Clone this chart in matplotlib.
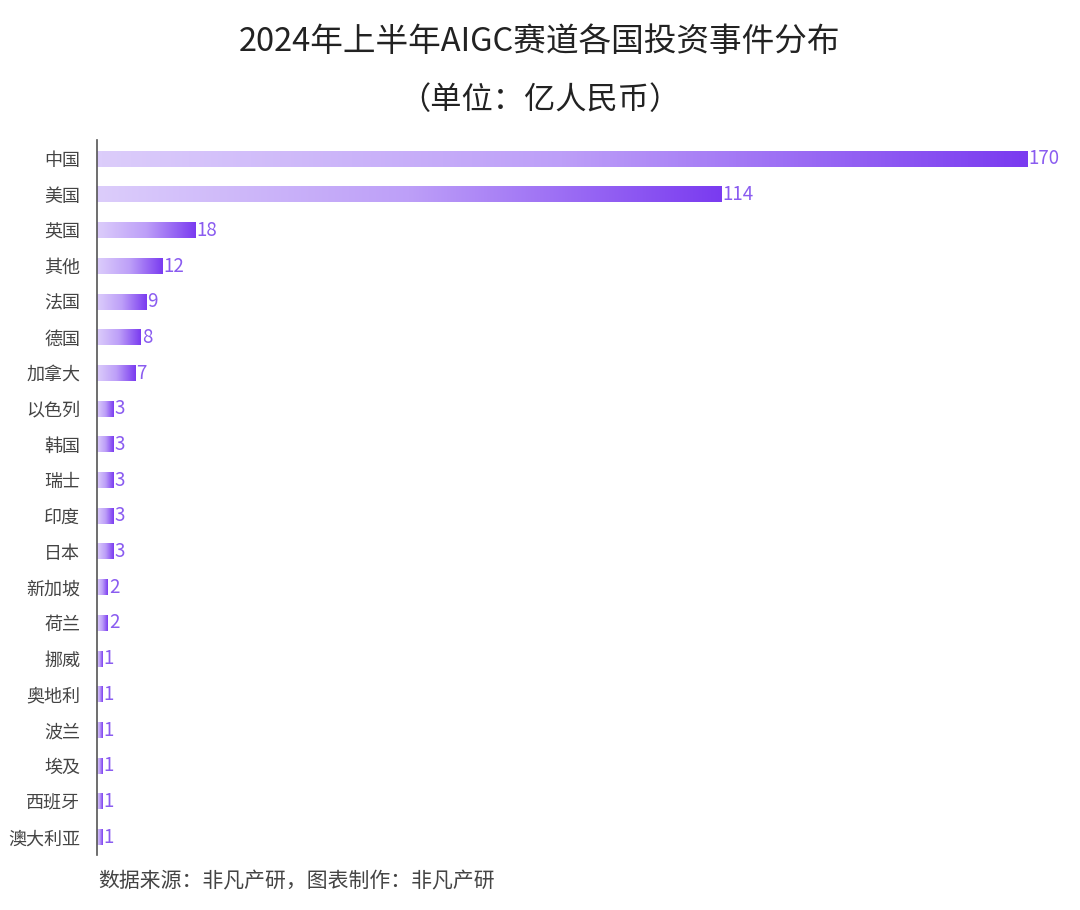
import matplotlib
matplotlib.use("Agg")
import matplotlib.pyplot as plt
import numpy as np
from matplotlib.colors import LinearSegmentedColormap

plt.rcParams['font.family'] = ['Noto Sans CJK SC', 'DejaVu Sans']

countries = ['中国', '美国', '英国', '其他', '法国', '德国', '加拿大', '以色列', '韩国', '瑞士',
             '印度', '日本', '新加坡', '荷兰', '挪威', '奥地利', '波兰', '埃及', '西班牙', '澳大利亚']
values = [170, 114, 18, 12, 9, 8, 7, 3, 3, 3, 3, 3, 2, 2, 1, 1, 1, 1, 1, 1]

title = '2024年上半年AIGC赛道各国投资事件分布'
subtitle = '（单位：亿人民币）'
source = '数据来源：非凡产研，图表制作：非凡产研'

# light lavender -> purple gradient along each bar
cmap = LinearSegmentedColormap.from_list('grad', ['#dccdfb', '#bd9ff8', '#7a3bf0'])
grad = np.linspace(0, 1, 256).reshape(1, -1)

fig = plt.figure(figsize=(10.8, 9.1), dpi=100)
ax = fig.add_axes([97 / 1080, 1 - 855 / 910, (1028 - 97) / 1080, (855 - 140) / 910])

bar_h = 0.44
for i, (name, v) in enumerate(zip(countries, values)):
    ax.imshow(grad, cmap=cmap, aspect='auto', interpolation='bicubic',
              extent=(0, v, i + bar_h / 2, i - bar_h / 2), zorder=2)
    ax.text(v + 0.15, i, str(v), va='center', ha='left', fontsize=13.5,
            color='#8a5cf0', zorder=3)

ax.set_xlim(0, 170)
ax.set_ylim(19.5, -0.53)
ax.set_yticks(range(len(countries)))
ax.set_yticklabels(countries, fontsize=13, color='#444444')
ax.tick_params(axis='y', length=0, pad=12)
ax.set_xticks([])
for s in ['top', 'right', 'bottom']:
    ax.spines[s].set_visible(False)
ax.spines['left'].set_color('#555555')
ax.spines['left'].set_linewidth(1.2)

fig.text(0.5, 1 - 42 / 910, title, ha='center', va='center', fontsize=23.5, color='#222222')
fig.text(0.5, 1 - 100 / 910, subtitle, ha='center', va='center', fontsize=22.5, color='#222222')
fig.text(98 / 1080, 1 - 881 / 910, source, ha='left', va='center', fontsize=15, color='#444444')

fig.savefig('out.png', dpi=100, facecolor='white')
